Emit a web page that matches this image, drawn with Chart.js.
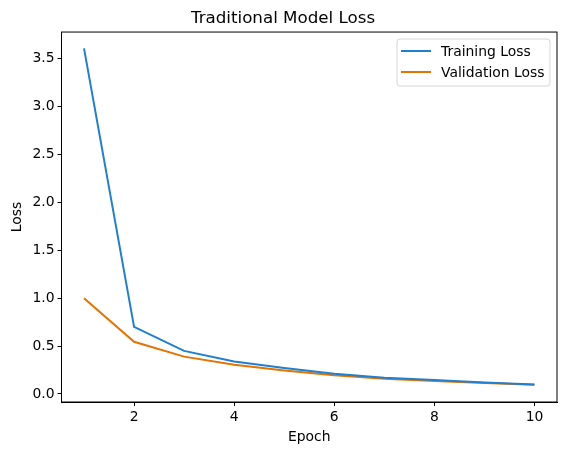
<!DOCTYPE html>
<html>
<head>
<meta charset="utf-8">
<script src="https://cdn.jsdelivr.net/npm/chart.js@4/dist/chart.umd.min.js"></script>
<style>
  html, body { margin: 0; padding: 0; background: #fff; }
  #wrap { width: 567px; height: 455px; }
</style>
</head>
<body>
<div id="wrap"><canvas id="lossChart" width="567" height="455"></canvas></div>
<script>
const epochs = [1, 2, 3, 4, 5, 6, 7, 8, 9, 10];
const trainingLoss = [3.61, 0.70, 0.45, 0.34, 0.27, 0.21, 0.17, 0.145, 0.12, 0.10];
const validationLoss = [1.00, 0.545, 0.39, 0.305, 0.245, 0.195, 0.16, 0.135, 0.115, 0.095];
const xTicks = [2, 4, 6, 8, 10];
const yTicks = [0, 0.5, 1.0, 1.5, 2.0, 2.5, 3.0, 3.5];

const FONT = "'DejaVu Sans', sans-serif";

// axes frame + matplotlib style legend in upper right
const frameAndLegend = {
    id: 'frameAndLegend',
    afterDraw(chart) {
        const { ctx, chartArea: a } = chart;
        ctx.save();
        ctx.strokeStyle = '#000';
        ctx.lineWidth = 1;
        ctx.strokeRect(a.left, a.top, a.right - a.left, a.bottom - a.top);

        const x0 = 397, y0 = 39, w = 153, h = 47;
        ctx.fillStyle = 'rgba(255,255,255,0.8)';
        ctx.strokeStyle = '#d6d6d6';
        ctx.beginPath();
        ctx.roundRect(x0, y0, w, h, 3);
        ctx.fill();
        ctx.stroke();

        ctx.font = '13.9px ' + FONT;
        ctx.textBaseline = 'middle';
        chart.data.datasets.forEach((ds, i) => {
            const y = 51 + i * 21;
            ctx.strokeStyle = ds.borderColor;
            ctx.lineWidth = 2;
            ctx.beginPath();
            ctx.moveTo(401, y);
            ctx.lineTo(431, y);
            ctx.stroke();
            ctx.fillStyle = '#000';
            ctx.fillText(ds.label, 441, y + 1);
        });
        ctx.restore();
    }
};

new Chart(document.getElementById('lossChart').getContext('2d'), {
    type: 'line',
    data: {
        datasets: [{
            label: 'Training Loss',
            data: epochs.map((e, i) => ({ x: e, y: trainingLoss[i] })),
            borderColor: '#1f7fd0',
            borderWidth: 2,
            pointRadius: 0,
            tension: 0
        }, {
            label: 'Validation Loss',
            data: epochs.map((e, i) => ({ x: e, y: validationLoss[i] })),
            borderColor: '#e67300',
            borderWidth: 2,
            pointRadius: 0,
            tension: 0
        }]
    },
    options: {
        responsive: false,
        animation: false,
        layout: { padding: { left: 9, right: 10, top: 0, bottom: 9 } },
        scales: {
            x: {
                type: 'linear',
                min: 0.55,
                max: 10.45,
                afterBuildTicks: s => { s.ticks = xTicks.map(v => ({ value: v })); },
                afterFit: s => { s.height = 44; },
                grid: { drawOnChartArea: false, tickLength: 4, color: '#000' },
                border: { color: '#000' },
                ticks: { color: '#000', font: { family: FONT, size: 13.9 }, padding: 3, maxRotation: 0 },
                title: { display: true, text: 'Epoch', color: '#000', font: { family: FONT, size: 13.9 }, padding: { top: 1, bottom: 0 } }
            },
            y: {
                min: -0.084,
                max: 3.78,
                afterBuildTicks: s => { s.ticks = yTicks.map(v => ({ value: v })); },
                afterFit: s => { s.width = 52.5; },
                grid: { drawOnChartArea: false, tickLength: 4, color: '#000' },
                border: { color: '#000' },
                ticks: { color: '#000', font: { family: FONT, size: 13.9 }, padding: 3, callback: v => v.toFixed(1) },
                title: { display: true, text: 'Loss', color: '#000', font: { family: FONT, size: 13.9 }, padding: { top: 0, bottom: 4 } }
            }
        },
        plugins: {
            legend: { display: false },
            tooltip: { enabled: false },
            title: {
                display: true,
                text: 'Traditional Model Loss',
                color: '#000',
                font: { family: FONT, size: 16.7, weight: 'normal' },
                padding: { top: 9, bottom: 3 }
            }
        }
    },
    plugins: [frameAndLegend]
});
</script>
</body>
</html>
